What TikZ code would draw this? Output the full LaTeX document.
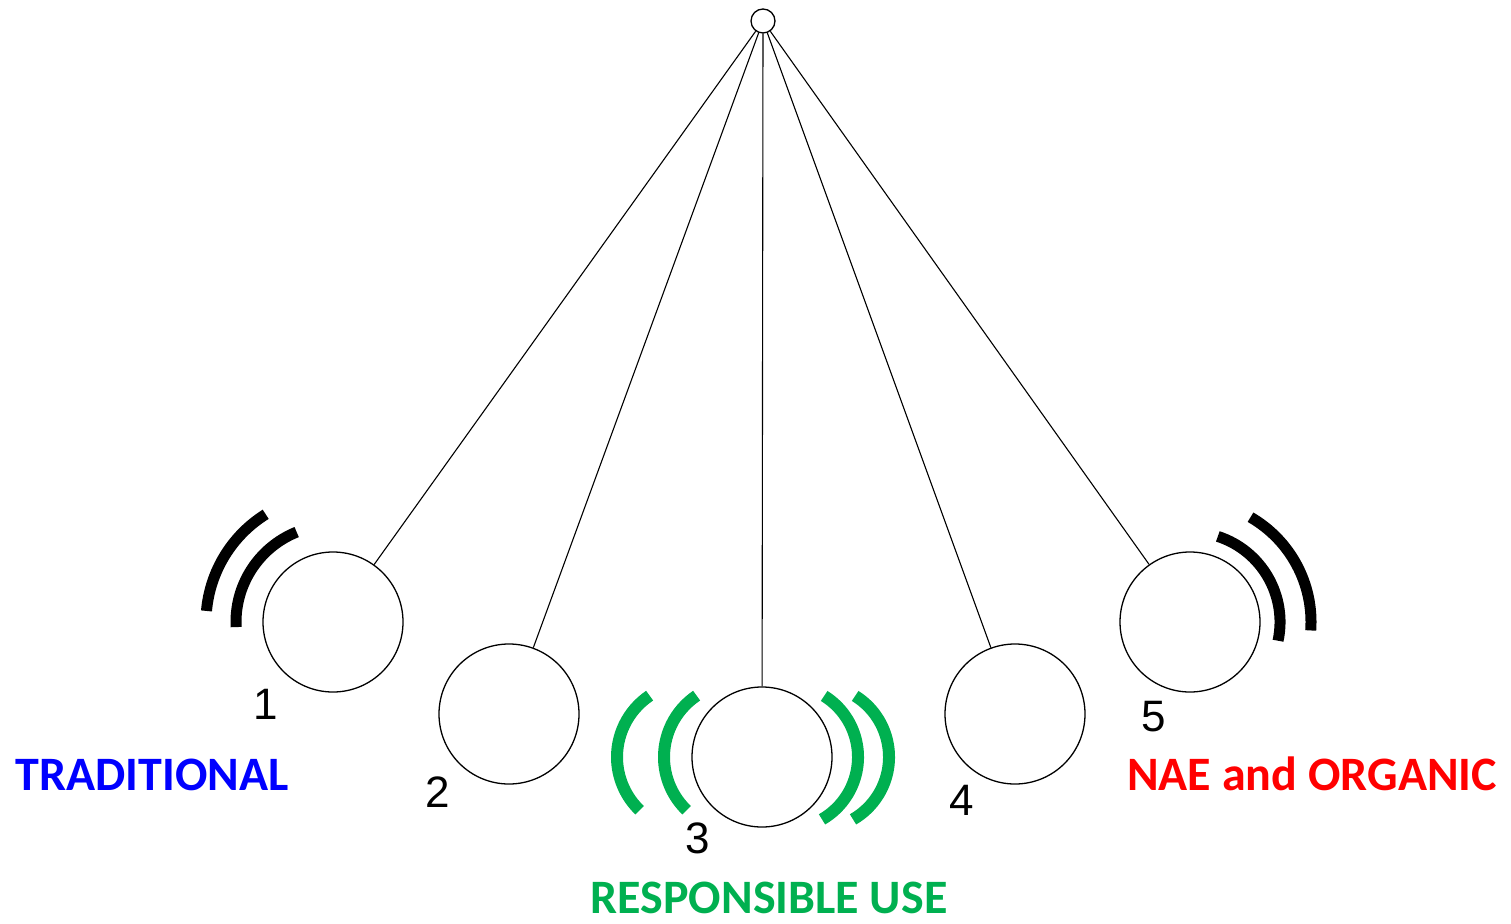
\documentclass[tikz,border=0pt]{standalone}
\usepackage{fontspec}
\setmainfont{Liberation Sans}
\newfontfamily\captionfont{Carlito}
\definecolor{tradblue}{RGB}{0,0,255}
\definecolor{naered}{RGB}{255,0,0}
\definecolor{usegreen}{RGB}{0,176,80}

\begin{document}
\begin{tikzpicture}[x=1pt,y=-1pt]
       \tikzset{bob/.style ={circle, draw, line width=1.3pt, minimum size=140pt, inner sep=0pt}}
       \tikzset{pivot/.style ={circle, draw, line width=1.3pt, minimum size=24pt, inner sep=0pt}}
       \tikzset{string/.style ={line width=1.1pt}}
       \tikzset{num/.style ={font=\fontsize{44}{44}\selectfont}}
       \tikzset{caption/.style ={font=\captionfont\bfseries\fontsize{48}{48}\selectfont, anchor=base, inner sep=0pt}}
       \tikzset{wave/.style ={line width=11pt}}

        \useasboundingbox (0,0) rectangle (1511,923);

        \node[pivot] (pivot) at (763,21) {};
        \node[bob] (bob1) at (333,622) {};
        \node[bob] (bob2) at (509,714) {};
        \node[bob] (bob3) at (762,757) {};
        \node[bob] (bob4) at (1015,714) {};
        \node[bob] (bob5) at (1190,622) {};

        \draw[string](pivot) -- (bob1);
        \draw[string](pivot) -- (bob2);
        \draw[string](pivot) -- (bob3);
        \draw[string](pivot) -- (bob4);
        \draw[string](pivot) -- (bob5);

        \node[num] (n1) at (266,704) {1};
        \node[num] (n2) at (438,792) {2};
        \node[num] (n3) at (698,838) {3};
        \node[num] (n4) at (962,800) {4};
        \node[num] (n5) at (1154,717) {5};

        % swing marks
        \draw[wave] (bob1.center) ++(-112:97) arc[start angle=-112, end angle=-183, radius=97];
        \draw[wave] (bob1.center) ++(-122:127) arc[start angle=-122, end angle=-175, radius=127];
        \draw[wave] (bob5.center) ++(-72:90) arc[start angle=-72, end angle=12, radius=90];
        \draw[wave] (bob5.center) ++(-60:121) arc[start angle=-60, end angle=4, radius=121];

        \draw[wave, line width=12pt, usegreen] (738,757) ++(-124:74) arc[start angle=-124, end angle=-226, radius=74];
        \draw[wave, line width=12pt, usegreen] (691,757) ++(-124:74) arc[start angle=-124, end angle=-226, radius=74];
        \draw[wave, line width=12pt, usegreen] (786,757) ++(-58:72) arc[start angle=-58, end angle=60, radius=72];
        \draw[wave, line width=12pt, usegreen] (817,757) ++(-58:72) arc[start angle=-58, end angle=60, radius=72];

        \node[caption, text=tradblue] (trad) at (152,790) {TRADITIONAL};
        \node[caption, text=naered] (nae) at (1312,790) {NAE and ORGANIC};
        \node[caption, text=usegreen] (resp) at (769,913) {RESPONSIBLE USE};

   \end{tikzpicture}
\end{document}
